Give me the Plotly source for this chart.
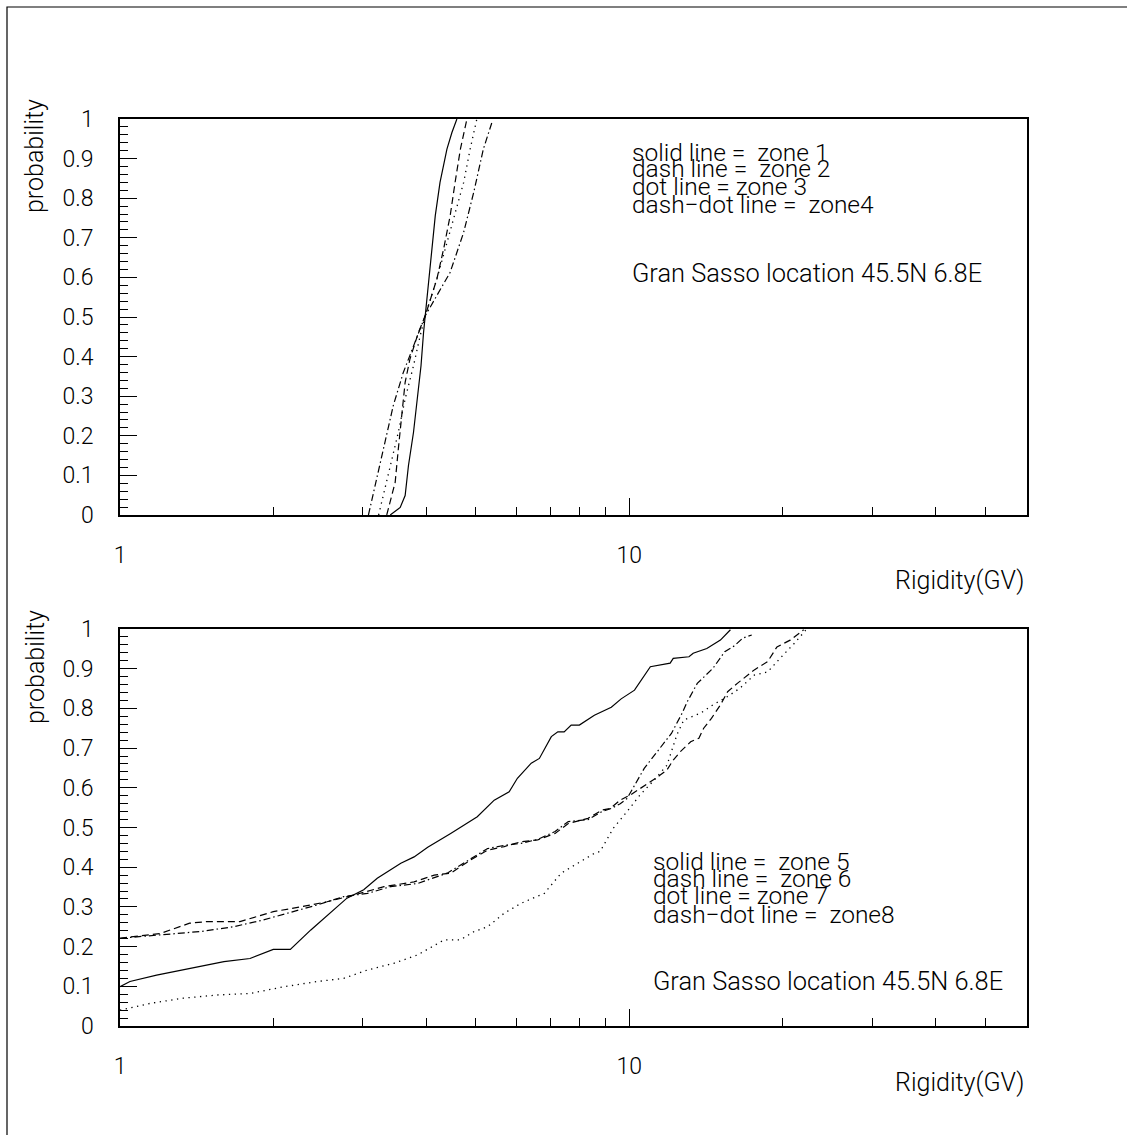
import plotly.graph_objects as go

# ---------------- data ----------------
# top panel: zones 1-4
z1_x = [3.393, 3.55, 3.63, 3.685, 3.77, 3.83, 3.90, 3.945, 3.975, 4.06, 4.16, 4.25, 4.385, 4.485, 4.587]
z1_y = [0.0, 0.019, 0.049, 0.125, 0.209, 0.293, 0.377, 0.461, 0.503, 0.63, 0.756, 0.84, 0.924, 0.966, 1.0]

z2_x = [3.34, 3.47, 3.52, 3.576, 3.63, 3.71, 3.855, 3.975, 4.19, 4.32, 4.45, 4.55, 4.66, 4.80]
z2_y = [0.0, 0.0825, 0.167, 0.251, 0.335, 0.394, 0.461, 0.503, 0.596, 0.672, 0.756, 0.84, 0.924, 1.0]

z3_x = [3.22, 3.39, 3.52, 3.63, 3.77, 3.886, 3.975, 4.19, 4.35, 4.55, 4.73, 4.87, 5.02]
z3_y = [0.0, 0.125, 0.209, 0.293, 0.377, 0.453, 0.503, 0.596, 0.672, 0.756, 0.84, 0.924, 1.0]

z4_x = [3.075, 3.29, 3.44, 3.60, 3.77, 3.975, 4.45, 4.73, 4.95, 5.17, 5.37]
z4_y = [0.0, 0.167, 0.276, 0.36, 0.428, 0.503, 0.613, 0.714, 0.815, 0.924, 0.99]

# bottom panel: zones 5-8
z5_x = [1.0, 1.046, 1.18, 1.37, 1.60, 1.80, 2.00, 2.16, 2.37, 2.79, 3.01, 3.2, 3.56, 3.78, 4.02, 4.46,
        5.03, 5.43, 5.81, 6.03, 6.42, 6.66, 7.03, 7.24, 7.45, 7.69, 7.98, 8.54, 9.22, 9.64, 10.24,
        11.0, 11.37, 12.03, 12.2, 13.1, 13.35, 14.2, 15.1, 15.8]
z5_y = [0.099, 0.112, 0.128, 0.145, 0.162, 0.170, 0.193, 0.193, 0.242, 0.322, 0.343, 0.372, 0.41, 0.426, 0.45, 0.485,
        0.527, 0.569, 0.59, 0.624, 0.662, 0.674, 0.729, 0.741, 0.741, 0.758, 0.758, 0.783, 0.803, 0.824, 0.846,
        0.905, 0.909, 0.914, 0.926, 0.93, 0.939, 0.951, 0.972, 0.998]

z6_x = [1.0, 1.2, 1.37, 1.48, 1.72, 2.0, 2.26, 2.55, 2.88, 3.3, 3.78, 4.14, 4.46, 4.88, 5.27, 5.68, 6.13,
        6.61, 7.15, 7.59, 8.3, 8.84, 9.18, 9.6, 10.05, 10.5, 11.0, 11.5, 11.86, 12.2, 12.6, 13.2, 13.7,
        14.0, 14.5, 15.1, 15.6, 16.3, 17.6, 18.7, 19.5, 20.7, 22.0]
z6_y = [0.221, 0.233, 0.259, 0.263, 0.263, 0.288, 0.30, 0.313, 0.33, 0.351, 0.363, 0.38, 0.385, 0.418, 0.443, 0.452, 0.464,
        0.469, 0.485, 0.51, 0.523, 0.544, 0.548, 0.569, 0.582, 0.599, 0.615, 0.632, 0.645, 0.67, 0.691, 0.716, 0.725,
        0.75, 0.775, 0.809, 0.842, 0.863, 0.897, 0.918, 0.955, 0.972, 0.998]

z7_x = [1.0, 1.146, 1.33, 1.55, 1.80, 2.1, 2.44, 2.75, 3.06, 3.45, 3.84, 4.14, 4.33, 4.66, 4.96, 5.27, 5.68,
        6.13, 6.81, 7.35, 7.93, 8.54, 8.77, 9.3, 9.9, 10.5, 11.2, 11.86, 12.4, 12.8, 13.8, 14.6, 15.6, 16.5,
        17.6, 18.7, 19.9, 21.1, 22.2]
z7_y = [0.040, 0.057, 0.07, 0.078, 0.082, 0.099, 0.112, 0.12, 0.141, 0.158, 0.179, 0.204, 0.217, 0.217, 0.238, 0.25, 0.284,
        0.309, 0.334, 0.385, 0.41, 0.435, 0.44, 0.498, 0.54, 0.582, 0.62, 0.657, 0.733, 0.771, 0.788, 0.809, 0.83, 0.851,
        0.884, 0.892, 0.93, 0.964, 0.997]

z8_x = [1.0, 1.2, 1.44, 1.67, 1.91, 2.13, 2.44, 2.75, 3.06, 3.4, 3.84, 4.39, 4.88, 5.27, 5.68, 6.13, 6.61,
        7.15, 7.59, 8.3, 8.84, 9.22, 9.6, 9.9, 10.7, 11.4, 12.1, 12.7, 13.0, 13.6, 14.6, 15.4, 16.1, 16.7, 17.4]
z8_y = [0.221, 0.229, 0.238, 0.25, 0.267, 0.284, 0.305, 0.326, 0.334, 0.351, 0.359, 0.385, 0.42, 0.447, 0.455, 0.46, 0.47,
        0.49, 0.515, 0.52, 0.54, 0.548, 0.56, 0.573, 0.649, 0.695, 0.737, 0.788, 0.817, 0.863, 0.901, 0.943, 0.958, 0.977, 0.985]

y_tickvals = [0, 0.1, 0.2, 0.3, 0.4, 0.5, 0.6, 0.7, 0.8, 0.9, 1.0]
y_ticktext = ["0", "0.1", "0.2", "0.3", "0.4", "0.5", "0.6", "0.7", "0.8", "0.9", "1"]
x_tickvals = [1, 10]
x_ticktext = ["1", "10"]
x_minor = [2, 3, 4, 5, 6, 7, 8, 9, 20, 30, 40, 50]
y_minor = [round(i * 0.02, 2) for i in range(51)]

legend_top = ["solid line =\u00a0 zone 1", "dash line =\u00a0 zone 2", "dot line = zone 3", "dash\u2212dot line =\u00a0 zone4"]
legend_bot = ["solid line =\u00a0 zone 5", "dash line =\u00a0 zone 6", "dot line = zone 7", "dash\u2212dot line =\u00a0 zone8"]
location_text = "Gran Sasso location 45.5N 6.8E"
x_title = "Rigidity(GV)"
y_title = "probability"

# ---------------- layout geometry (window pixels) ----------------
W, H = 1127, 1135
FONT = "Roboto"
WEIGHT = 300

def px(xp):
    return xp / W

def py(yp):
    return 1 - yp / H

styles = [
    dict(color="black", width=1.2),
    dict(color="black", width=1.2, dash="7px,4px"),
    dict(color="black", width=1.3, dash="1.3px,4.5px"),
    dict(color="black", width=1.2, dash="7px,3px,1.5px,3px"),
]

fig = go.Figure()
top = [(z1_x, z1_y), (z2_x, z2_y), (z3_x, z3_y), (z4_x, z4_y)]
bot = [(z5_x, z5_y), (z6_x, z6_y), (z7_x, z7_y), (z8_x, z8_y)]
for (xs, ys), st in zip(top, styles):
    fig.add_trace(go.Scatter(x=xs, y=ys, mode="lines", line=st, xaxis="x", yaxis="y",
                             showlegend=False, hoverinfo="skip"))
for (xs, ys), st in zip(bot, styles):
    fig.add_trace(go.Scatter(x=xs, y=ys, mode="lines", line=st, xaxis="x2", yaxis="y2",
                             showlegend=False, hoverinfo="skip"))

tick_font = dict(family=FONT, size=23, color="black", weight=WEIGHT)

def xaxis_cfg(anchor):
    return dict(
        type="log", range=[0, 1.781], domain=[px(120), px(1027)], anchor=anchor,
        automargin=False,
        showline=True, linecolor="black", linewidth=1.5, mirror=True,
        showgrid=False, zeroline=False,
        ticks="inside", ticklen=17, tickwidth=1, tickcolor="black",
        tickvals=x_tickvals, ticktext=x_ticktext,
        tickfont=tick_font,
        ticklabelstandoff=19,
        minor=dict(ticks="inside", ticklen=8, tickwidth=1, tickcolor="black", tickvals=x_minor, showgrid=False),
    )

def yaxis_cfg(anchor, dom):
    return dict(
        range=[0, 1], domain=dom, anchor=anchor,
        automargin=False,
        showline=True, linecolor="black", linewidth=1.5, mirror=True,
        showgrid=False, zeroline=False,
        ticks="inside", ticklen=17, tickwidth=1, tickcolor="black",
        tickvals=y_tickvals, ticktext=y_ticktext,
        tickfont=tick_font,
        ticklabelstandoff=20,
        minor=dict(ticks="inside", ticklen=8, tickwidth=1, tickcolor="black", tickvals=y_minor, showgrid=False),
    )

annotations = []
def add_text(text, x, y, xanchor="left", yanchor="middle", angle=0, size=25):
    annotations.append(dict(text=text, x=px(x), y=py(y), xref="paper", yref="paper",
                            xanchor=xanchor, yanchor=yanchor, showarrow=False, textangle=angle,
                            font=dict(family=FONT, size=size, color="black", weight=WEIGHT)))

for t, yy in zip(legend_top, [152, 169, 186, 205]):
    add_text(t, 630, yy, size=24.5)
add_text(location_text, 630, 273, size=25.4)
for t, yy in zip(legend_bot, [861, 878, 895, 914]):
    add_text(t, 651, yy, size=24.5)
add_text(location_text, 651, 981, size=25.4)

add_text(x_title, 1026, 580, xanchor="right")
add_text(x_title, 1026, 1082, xanchor="right")
add_text(y_title, 35, 97, xanchor="center", yanchor="top", angle=-90)
add_text(y_title, 35, 608, xanchor="center", yanchor="top", angle=-90)

fig.update_layout(
    template="none",
    width=W, height=H, autosize=False,
    margin=dict(l=0, r=0, t=0, b=0, pad=0, autoexpand=False),
    paper_bgcolor="white", plot_bgcolor="white",
    xaxis=xaxis_cfg("y"),
    yaxis=yaxis_cfg("x", [py(515), py(119)]),
    xaxis2=xaxis_cfg("y2"),
    yaxis2=yaxis_cfg("x2", [py(1026), py(629)]),
    annotations=annotations,
    shapes=[dict(type="rect", xref="paper", yref="paper", x0=px(7), y0=-0.2, x1=1.2, y1=py(7),
                 line=dict(color="black", width=1.2))],
    font=dict(family=FONT, color="black"),
)

fig.write_html("out.html")
